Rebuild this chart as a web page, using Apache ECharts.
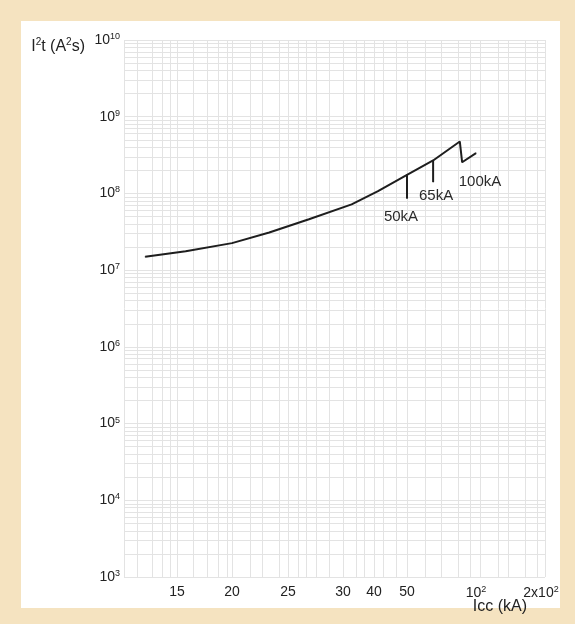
<!DOCTYPE html>
<html>
<head>
<meta charset="utf-8">
<script src="https://cdn.jsdelivr.net/npm/echarts@6/dist/echarts.min.js"></script>
<style>
  html, body { margin: 0; padding: 0; background: #f5e3c0; }
  #panel { position: absolute; left: 21px; top: 21px; width: 539px; height: 587px; background: #ffffff; }
  #chart { position: absolute; left: 0; top: 0; width: 575px; height: 624px; }
</style>
</head>
<body>
<div id="panel"></div>
<div id="chart"></div>
<script>
// Let-through energy I²t versus prospective short-circuit current Icc

// Curve: Icc (kA) and I²t (A²s)
const icc = [12.7, 15.7, 20, 23.2, 26.8, 32.5, 41.1, 50, 65, 85, 87, 100];
const i2t = [1.50e7, 1.76e7, 2.25e7, 3.09e7, 4.61e7, 7.19e7, 1.07e8, 1.75e8, 2.69e8, 4.75e8, 2.55e8, 3.36e8];

// Breaking-capacity markers
const markerNames = ['50kA', '65kA'];
const markerIcc = [50, 65];
const markerTop = [1.75e8, 2.69e8];
const markerBottom = [8.6e7, 1.41e8];
const endLabel = '100kA';

// Current axis tick values and their labels
const xTickVals = [15, 20, 25, 30, 40, 50, 100, 200];
const xTickText = ['15', '20', '25', '30', '40', '50', '10{sup|2}', '2x10{sup|2}'];

// I²t axis decades
const yDecades = [3, 4, 5, 6, 7, 8, 9, 10];

// The printed current scale is not uniform: each tick sits at its own offset
// along the axis (in pixels from the left edge), values in between are
// interpolated logarithmically.
const X_SPAN = 421;
const xTickPos = [53, 108, 164, 219, 250, 283, 352, 417];
const xGridPos = [0, 13, 28, 38, 46, 53, 69, 83, 94, 103, 108, 126, 138, 155, 164, 174, 182, 192,
  205, 219, 232, 240, 250, 259, 272, 283, 301, 317, 334, 346, 356, 374, 384, 401, 413, 421];

function toPos(v) {
  let i = 0;
  while (i < xTickVals.length - 2 && v > xTickVals[i + 1]) i++;
  const a = xTickVals[i], b = xTickVals[i + 1];
  const pa = xTickPos[i], pb = xTickPos[i + 1];
  return pa + (pb - pa) * Math.log(v / a) / Math.log(b / a);
}

// log minor grid values: k·10^n
const yGridVals = [];
for (let n = yDecades[0]; n < yDecades[yDecades.length - 1]; n++) {
  for (let k = 1; k <= 9; k++) yGridVals.push(k * Math.pow(10, n));
}
yGridVals.push(Math.pow(10, yDecades[yDecades.length - 1]));

const tickPosToText = {};
xTickPos.forEach((p, i) => { tickPosToText[p] = xTickText[i]; });

const font = 'Liberation Sans, Arial, sans-serif';
const ink = '#1e1e1e';
const supRich = {
  base: { fontSize: 14, color: '#222', fontFamily: font },
  sup: { fontSize: 9, color: '#222', fontFamily: font, padding: [0, 0, 7, 0] }
};
const markLabel = { fontSize: 15, color: '#2a2a2a', fontFamily: font };

const curve = icc.map((v, i) => [toPos(v), i2t[i]]);

const markerSeries = markerIcc.map((v, i) => ({
  type: 'line',
  silent: true,
  symbol: 'circle',
  symbolSize: 1,
  itemStyle: { color: ink },
  lineStyle: { color: ink, width: 2 },
  data: [
    [toPos(v), markerTop[i]],
    {
      value: [toPos(v), markerBottom[i]],
      label: Object.assign({
        show: true,
        position: 'bottom',
        distance: i === 0 ? 10 : 6,
        offset: [i === 0 ? -6 : 3, 0],
        formatter: markerNames[i]
      }, markLabel)
    }
  ],
  z: 3
}));

const curveData = curve.map((p, i) => i === curve.length - 1 ? {
  value: p,
  label: Object.assign({
    show: true, position: 'bottom', distance: 21, offset: [4, 0],
    formatter: endLabel
  }, markLabel)
} : p);

const chart = echarts.init(document.getElementById('chart'), null, { renderer: 'canvas' });
chart.setOption({
  backgroundColor: 'transparent',
  animation: false,
  grid: { left: 124, right: 30, top: 40, bottom: 47, containLabel: false, outerBoundsMode: 'none' },
  xAxis: {
    type: 'value',
    min: 0,
    max: X_SPAN,
    name: 'Icc (kA)',
    nameLocation: 'end',
    nameGap: -18,
    nameMoveOverlap: false,
    nameTextStyle: {
      fontSize: 16, color: '#222', fontFamily: font,
      align: 'right', verticalAlign: 'top', padding: [22, 0, 0, 0]
    },
    axisLine: { show: false },
    axisTick: { show: false, customValues: xGridPos },
    splitLine: { show: true, lineStyle: { color: '#e3e3e3', width: 1 } },
    axisLabel: {
      customValues: xTickPos,
      margin: 8,
      formatter: v => '{base|' + tickPosToText[v].replace(/\{sup\|(\d+)\}/g, '}{sup|$1}{base|') + '}',
      rich: supRich
    }
  },
  yAxis: {
    type: 'log',
    min: Math.pow(10, yDecades[0]),
    max: Math.pow(10, yDecades[yDecades.length - 1]),
    name: 'I{sup|2}t (A{sup|2}s)',
    nameLocation: 'end',
    nameGap: 0,
    nameMoveOverlap: false,
    nameTextStyle: {
      fontSize: 16, color: '#222', fontFamily: font,
      align: 'right', verticalAlign: 'middle', padding: [13, 39, 0, 0],
      rich: {
        sup: { fontSize: 10, color: '#222', fontFamily: font, padding: [0, 0, 8, 0] }
      }
    },
    axisLine: { show: false },
    axisTick: { show: false, customValues: yGridVals },
    splitLine: { show: true, lineStyle: { color: '#e3e3e3', width: 1 } },
    minorSplitLine: { show: false },
    axisLabel: {
      customValues: yDecades.map(n => Math.pow(10, n)),
      margin: 4,
      formatter: v => '{base|10}{sup|' + Math.round(Math.log10(v)) + '}',
      rich: supRich
    }
  },
  series: [
    {
      type: 'line',
      silent: true,
      symbol: 'circle',
      symbolSize: 1,
      itemStyle: { color: ink },
      lineStyle: { color: ink, width: 2 },
      data: curveData,
      z: 4
    }
  ].concat(markerSeries)
});
</script>
</body>
</html>
